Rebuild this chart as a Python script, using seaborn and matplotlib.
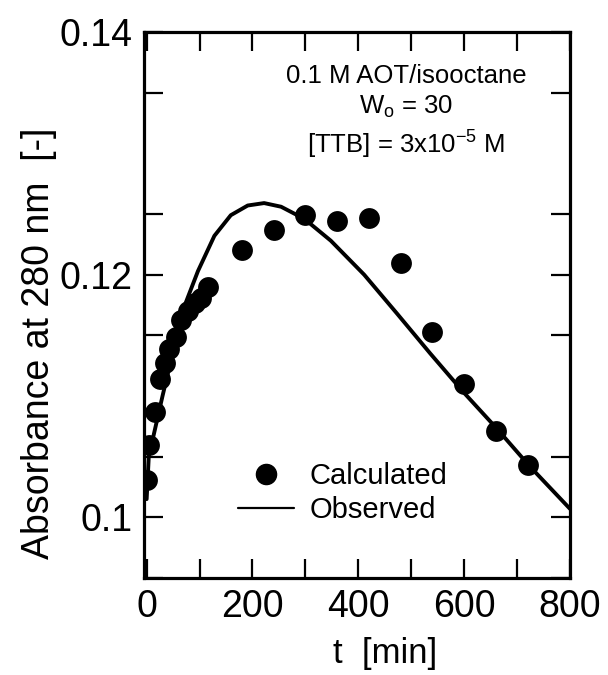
import matplotlib
matplotlib.use("Agg")
import matplotlib.pyplot as plt
import seaborn as sns
import pandas as pd
from matplotlib.lines import Line2D

# ---- data ----
calc_t = [0, 5, 15, 25, 35, 42, 55, 64, 79, 92, 102, 115,
          180, 240, 300, 360, 420, 480, 540, 600, 660, 720]
calc_y = [0.1031, 0.1060, 0.1087, 0.1114, 0.1127, 0.1139, 0.1149, 0.1163,
          0.1170, 0.1177, 0.1181, 0.1190, 0.1220, 0.1237, 0.1249, 0.1244,
          0.1247, 0.1210, 0.1153, 0.1110, 0.1071, 0.1043]

obs_t = [0, 4, 17, 30, 42, 60, 74, 97, 128, 159, 191, 222, 254, 298,
         348, 411, 473, 536, 599, 662, 724, 800]
obs_y = [0.1015, 0.1050, 0.1075, 0.1100, 0.1122, 0.1157, 0.1177, 0.1203,
         0.1232, 0.1249, 0.1257, 0.1259, 0.1256, 0.1246, 0.1228, 0.1200,
         0.1168, 0.1135, 0.1103, 0.1073, 0.1042, 0.1007]

x_ticks = [0, 200, 400, 600, 800]
x_tick_labels = ["0", "200", "400", "600", "800"]
y_ticks = [0.10, 0.12, 0.14]
y_tick_labels = ["0.1", "0.12", "0.14"]

annot_lines = ["0.1 M AOT/isooctane", r"W$_\mathrm{o}$ = 30",
               r"[TTB] = 3x10$^{-5}$ M"]

calc_df = pd.DataFrame({"t": calc_t, "A": calc_y})
obs_df = pd.DataFrame({"t": obs_t, "A": obs_y})

# ---- style ----
sns.set_theme(style="ticks")
plt.rcParams["font.family"] = ["Liberation Sans", "DejaVu Sans"]
plt.rcParams["mathtext.fontset"] = "custom"
plt.rcParams["mathtext.rm"] = "Liberation Sans"
plt.rcParams["mathtext.it"] = "Liberation Sans:italic"
plt.rcParams["text.color"] = "black"
plt.rcParams["axes.labelcolor"] = "black"
plt.rcParams["xtick.color"] = "black"
plt.rcParams["ytick.color"] = "black"

fig = plt.figure(figsize=(6.08, 6.75), dpi=100)
ax = fig.add_axes([144 / 608, 97 / 675, 426 / 608, 546 / 675])

sns.lineplot(data=obs_df, x="t", y="A", ax=ax, color="black", linewidth=2.8,
             sort=False, legend=False)
sns.scatterplot(data=calc_df, x="t", y="A", ax=ax, color="black", s=225,
                edgecolor="black", linewidth=0, legend=False, zorder=3)

ax.set_xlim(-5, 800)
ax.set_ylim(0.095, 0.14)

ax.set_xticks(x_ticks)
ax.set_xticklabels(x_tick_labels)
ax.set_xticks([100, 300, 500, 700], minor=True)
ax.set_yticks(y_ticks)
ax.set_yticklabels(y_tick_labels)
ax.set_yticks([0.095, 0.105, 0.115, 0.125, 0.135], minor=True)

ax.tick_params(axis="both", which="both", direction="in", top=True,
               right=True, length=13.5, width=1.6, colors="black")
ax.tick_params(axis="both", which="major", labelsize=27, pad=8)
for sp in ax.spines.values():
    sp.set_linewidth(2.3)
    sp.set_color("black")

ax.set_xlabel("t  [min]", fontsize=25, va="center")
ax.xaxis.set_label_coords(0.566, -0.138)
ax.set_ylabel("Absorbance at 280 nm  [-]", fontsize=27)
ax.yaxis.set_label_coords(-0.205, 0.43)

# annotation block
ys = [0.9066, 0.85, 0.778]
for txt, yy in zip(annot_lines, ys):
    ax.text(0.615, yy, txt, transform=ax.transAxes, ha="center",
            va="baseline", fontsize=18.5, color="black")

handles = [
    Line2D([], [], marker="o", ls="none", color="black", markersize=14.5),
    Line2D([], [], color="black", lw=1.6),
]
ax.legend(handles, ["Calculated", "Observed"], loc="center left",
          bbox_to_anchor=(0.16, 0.155), frameon=False, fontsize=21,
          handlelength=1.9, handletextpad=0.55, labelspacing=0.2)

fig.savefig("out.png", dpi=100)
